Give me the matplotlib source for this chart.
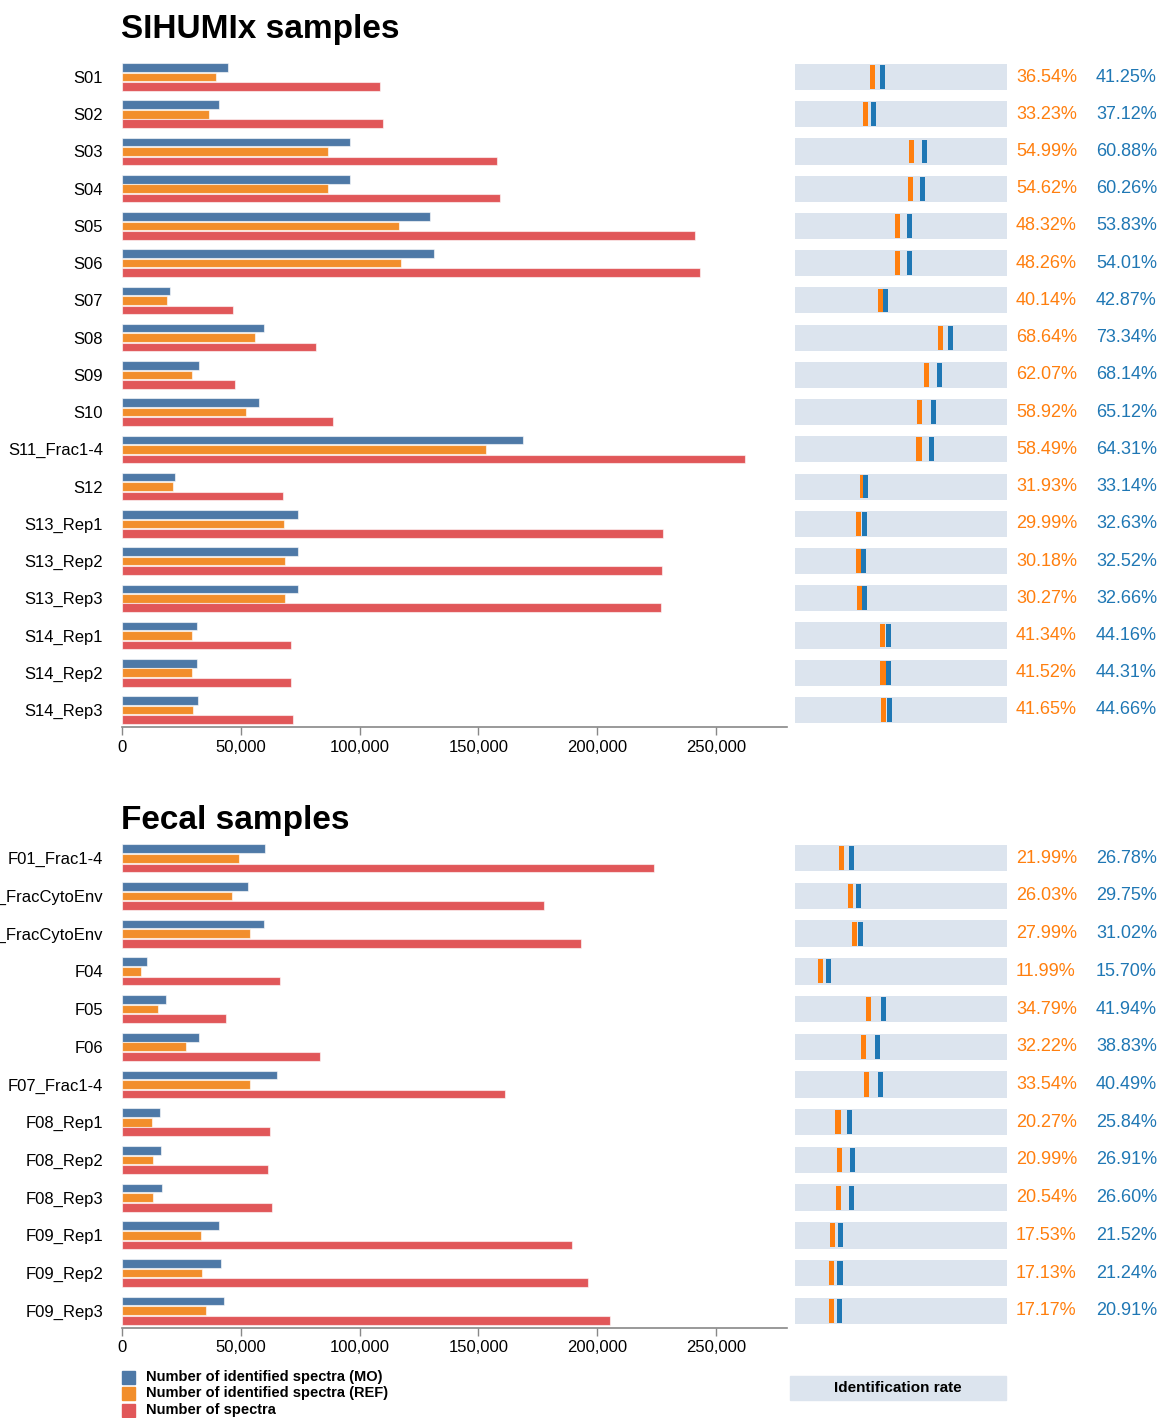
import matplotlib.pyplot as plt
from matplotlib.patches import Rectangle
from matplotlib.ticker import FuncFormatter

plt.rcParams['font.family'] = ['Liberation Sans', 'DejaVu Sans']

# SIHUMIx samples
sihumi_labels = ['S01', 'S02', 'S03', 'S04', 'S05', 'S06', 'S07', 'S08', 'S09', 'S10',
                 'S11_Frac1-4', 'S12', 'S13_Rep1', 'S13_Rep2', 'S13_Rep3',
                 'S14_Rep1', 'S14_Rep2', 'S14_Rep3']
sihumi_mo = [44600, 40800, 96100, 95900, 129800, 131400, 20000, 59900, 32400, 57800,
             168700, 22500, 74300, 73900, 74100, 31400, 31500, 32200]
sihumi_ref = [39600, 36500, 86800, 86900, 116600, 117400, 18800, 56100, 29500, 52300,
              153400, 21600, 68300, 68600, 68700, 29400, 29500, 30000]
sihumi_spectra = [108600, 110000, 157900, 159100, 241200, 243300, 46700, 81700, 47600, 88800,
                  262300, 67800, 227800, 227300, 226900, 71100, 71100, 72000]
sihumi_rate_ref = [36.54, 33.23, 54.99, 54.62, 48.32, 48.26, 40.14, 68.64, 62.07, 58.92,
                   58.49, 31.93, 29.99, 30.18, 30.27, 41.34, 41.52, 41.65]
sihumi_rate_mo = [41.25, 37.12, 60.88, 60.26, 53.83, 54.01, 42.87, 73.34, 68.14, 65.12,
                  64.31, 33.14, 32.63, 32.52, 32.66, 44.16, 44.31, 44.66]

# Fecal samples
fecal_labels = ['F01_Frac1-4', 'F02_FracCytoEnv', 'F03_FracCytoEnv', 'F04', 'F05', 'F06',
                'F07_Frac1-4', 'F08_Rep1', 'F08_Rep2', 'F08_Rep3',
                'F09_Rep1', 'F09_Rep2', 'F09_Rep3']
fecal_mo = [60000, 52900, 59900, 10400, 18400, 32400, 65300, 16100, 16500, 16800,
            40800, 41700, 42900]
fecal_ref = [49300, 46300, 54100, 8000, 15200, 26900, 54100, 12600, 12900, 13000,
             33200, 33600, 35300]
fecal_spectra = [224000, 177700, 193200, 66500, 43800, 83400, 161200, 62300, 61500, 63200,
                 189500, 196200, 205400]
fecal_rate_ref = [21.99, 26.03, 27.99, 11.99, 34.79, 32.22, 33.54, 20.27, 20.99, 20.54,
                  17.53, 17.13, 17.17]
fecal_rate_mo = [26.78, 29.75, 31.02, 15.70, 41.94, 38.83, 40.49, 25.84, 26.91, 26.60,
                 21.52, 21.24, 20.91]

C_MO = '#4e79a7'
C_REF = '#f28e2b'
C_SPEC = '#e15759'
C_RATE_REF = '#ff7f0e'
C_RATE_MO = '#1f77b4'
C_STRIP = '#dce4ee'

W, H = 1160, 1418
fig = plt.figure(figsize=(W / 100, H / 100), dpi=100)


def fx(px):
    return px / W


def fy(py):
    return 1 - py / H


def panel(top, bottom, labels, mo, ref, spectra, rate_ref, rate_mo, title, title_y):
    n = len(labels)
    step = (bottom - top) / (n - 1 + 2 * 0.457)
    pad = 0.457
    # bar chart
    ax = fig.add_axes([fx(122), fy(bottom), fx(787) - fx(122), (bottom - top) / H])
    ys = list(range(n))
    edge = (1, 1, 1, 0.6)
    ax.barh([y - 0.255 for y in ys], mo, height=0.23, color=C_MO, edgecolor=edge, linewidth=0.8)
    ax.barh(ys, ref, height=0.23, color=C_REF, edgecolor=edge, linewidth=0.8)
    ax.barh([y + 0.255 for y in ys], spectra, height=0.23, color=C_SPEC, edgecolor=edge, linewidth=0.8)
    ax.set_xlim(0, 280000)
    ax.set_ylim(n - 1 + pad, -pad)
    ax.set_yticks(ys)
    ax.set_yticklabels(labels, fontsize=12)
    ax.tick_params(axis='y', length=0, pad=13.5)
    ax.set_xticks([0, 50000, 100000, 150000, 200000, 250000])
    ax.xaxis.set_major_formatter(FuncFormatter(lambda v, p: f'{int(v):,}'))
    ax.tick_params(axis='x', length=6, width=1, color='#888888', labelsize=12, pad=3)
    for s in ['top', 'right', 'left']:
        ax.spines[s].set_visible(False)
    ax.spines['bottom'].set_color('#888888')
    ax.spines['bottom'].set_linewidth(1.2)

    # identification rate strips
    ar = fig.add_axes([fx(795), fy(bottom), fx(1007) - fx(795), (bottom - top) / H])
    ar.barh(ys, [100] * n, height=0.70, color=C_STRIP)
    ar.barh(ys, [2.4] * n, left=[r - 1.2 for r in rate_ref], height=0.64, color=C_RATE_REF)
    ar.barh(ys, [2.4] * n, left=[r - 1.2 for r in rate_mo], height=0.64, color=C_RATE_MO)
    for y, r1, r2 in zip(ys, rate_ref, rate_mo):
        ar.text(104.2, y, f'{r1:.2f}%', color=C_RATE_REF, fontsize=13, va='center',
                ha='left', clip_on=False)
        ar.text(142.0, y, f'{r2:.2f}%', color=C_RATE_MO, fontsize=13, va='center',
                ha='left', clip_on=False)
    ar.set_xlim(0, 100)
    ar.set_ylim(n - 1 + pad, -pad)
    ar.axis('off')

    fig.text(fx(121), fy(title_y), title, fontsize=24, fontweight='bold', va='baseline')


panel(60, 727, sihumi_labels, sihumi_mo, sihumi_ref, sihumi_spectra,
      sihumi_rate_ref, sihumi_rate_mo, 'SIHUMIx samples', 38)
panel(841, 1328, fecal_labels, fecal_mo, fecal_ref, fecal_spectra,
      fecal_rate_ref, fecal_rate_mo, 'Fecal samples', 829)

# legend
legend_items = [('Number of identified spectra (MO)', C_MO),
                ('Number of identified spectra (REF)', C_REF),
                ('Number of spectra', C_SPEC)]
for i, (txt, col) in enumerate(legend_items):
    yc = 1377 + i * 16.5
    fig.patches.append(Rectangle((fx(122), fy(yc + 6.5)), 13 / W, 13 / H,
                                 transform=fig.transFigure, color=col))
    fig.text(fx(146), fy(yc), txt, fontsize=10.5, fontweight='bold', va='center')

fig.patches.append(Rectangle((fx(790), fy(1400)), 216 / W, 24 / H,
                             transform=fig.transFigure, color=C_STRIP))
fig.text(fx(898), fy(1388), 'Identification rate', fontsize=11, fontweight='bold',
         ha='center', va='center')

fig.savefig('out.png', dpi=100)
